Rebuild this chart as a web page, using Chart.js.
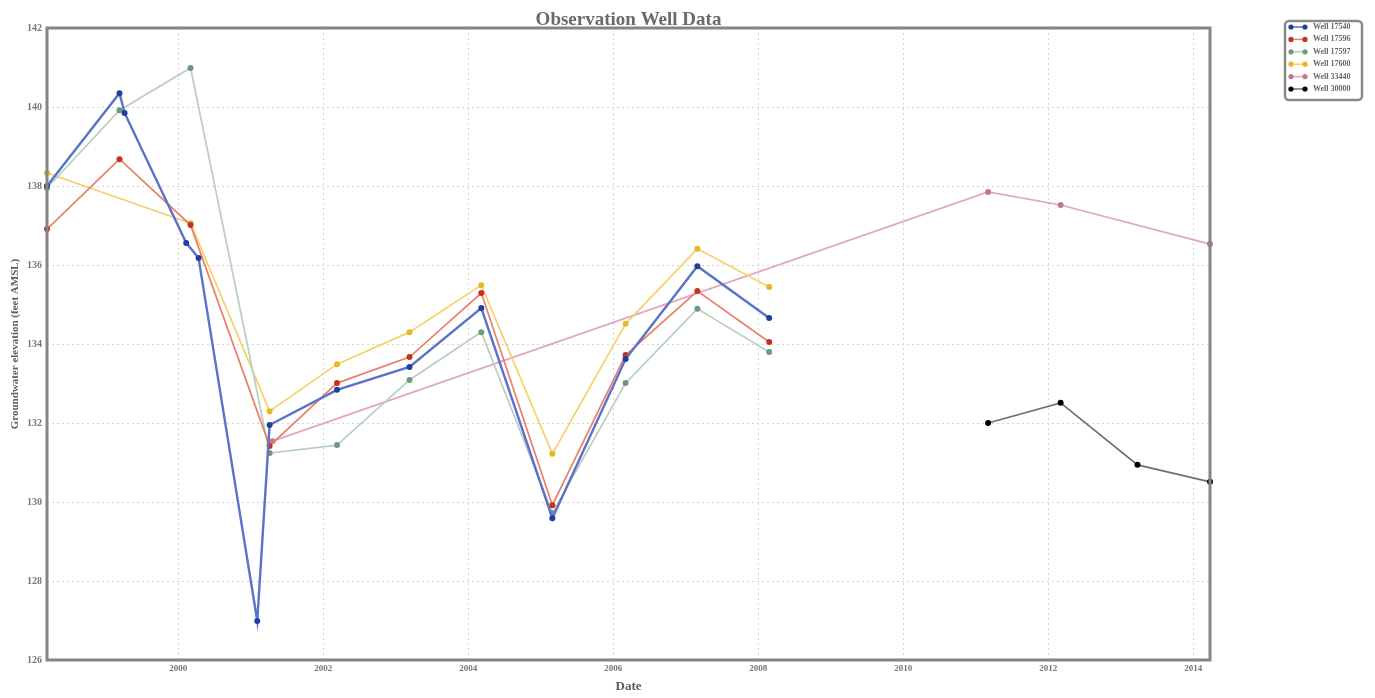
<!DOCTYPE html>
<html>
<head>
    <title>Observation Well Data</title>
    <script src="https://cdn.jsdelivr.net/npm/chart.js"></script>
    <style>
        /* full window canvas, no margins */
        html, body {
            margin: 0;
            padding: 0;
            background: #ffffff;
        }

        #wrap {
            width: 1375px;
            height: 698px;
        }
    </style>
</head>
<body>
    <div id="wrap">
        <canvas id="wellChart"></canvas>
    </div>

    <script>
        // Well names (legend) and colours
        var wellNames = ['Well 17540', 'Well 17596', 'Well 17597', 'Well 17600', 'Well 33440', 'Well 30000'];
        var lineColors = ['#5a72c8', '#e8806c', '#b9cfc0', '#f6d169', '#e2a6bd', '#707070'];
        var markColors = ['#1f3f9e', '#c2321f', '#6d9a7a', '#e8b822', '#c27595', '#000000'];

        // Sample dates (decimal years) and elevations (feet AMSL)
        var dates17540 = [1998.19, 1999.19, 1999.26, 2000.11, 2000.28, 2001.09, 2001.26, 2002.19, 2003.19, 2004.18, 2005.16, 2006.17, 2007.16, 2008.15];
        var elev17540  = [138.0, 140.35, 139.85, 136.56, 136.18, 126.99, 131.95, 132.84, 133.42, 134.91, 129.59, 133.62, 135.97, 134.66];

        var dates17596 = [1998.19, 1999.19, 2000.17, 2001.26, 2002.19, 2003.19, 2004.18, 2005.16, 2006.17, 2007.16, 2008.15];
        var elev17596  = [136.91, 138.68, 137.01, 131.42, 133.01, 133.67, 135.29, 129.92, 133.72, 135.34, 134.05];

        var dates17597 = [1998.19, 1999.19, 2000.17, 2001.26, 2002.19, 2003.19, 2004.18, 2005.16, 2006.17, 2007.16, 2008.15];
        var elev17597  = [137.95, 139.92, 140.99, 131.24, 131.44, 133.09, 134.30, 129.72, 133.01, 134.89, 133.80];

        var dates17600 = [1998.19, 2000.17, 2001.26, 2002.19, 2003.19, 2004.18, 2005.16, 2006.17, 2007.16, 2008.15];
        var elev17600  = [138.33, 137.06, 132.30, 133.49, 134.30, 135.49, 131.22, 134.51, 136.41, 135.44];

        var dates33440 = [2001.30, 2011.17, 2012.17, 2014.23];
        var elev33440  = [131.54, 137.85, 137.52, 136.53];

        var dates30000 = [2011.17, 2012.17, 2013.23, 2014.23];
        var elev30000  = [132.0, 132.51, 130.94, 130.51];

        // Axis ticks
        var xTicks = [2000, 2002, 2004, 2006, 2008, 2010, 2012, 2014];
        var yTicks = [126, 128, 130, 132, 134, 136, 138, 140, 142];

        var allDates = [dates17540, dates17596, dates17597, dates17600, dates33440, dates30000];
        var allElev = [elev17540, elev17596, elev17597, elev17600, elev33440, elev30000];

        function toPoints(dates, elev) {
            return dates.map(function (d, i) { return {x: d, y: elev[i]}; });
        }

        var datasets = wellNames.map(function (name, i) {
            return {
                label: name,
                data: toPoints(allDates[i], allElev[i]),
                borderColor: lineColors[i],
                backgroundColor: markColors[i],
                pointBackgroundColor: markColors[i],
                pointBorderColor: markColors[i],
                pointRadius: 3,
                pointBorderWidth: 0,
                borderWidth: i === 0 ? 2.4 : 1.7,
                tension: 0,
                fill: false,
                clip: 6
            };
        });

        var serif = "'Liberation Serif', 'DejaVu Serif', serif";
        var frameGray = '#858585';
        var textGray = '#5e5e5e';

        // Title, frame and legend drawn straight on the canvas
        var framePlugin = {
            id: 'framePlugin',
            afterDraw: function (chart) {
                var ctx = chart.ctx;
                var a = chart.chartArea;
                ctx.save();

                // frame round the plot
                ctx.strokeStyle = frameGray;
                ctx.lineWidth = 3;
                ctx.strokeRect(a.left, a.top, a.right - a.left, a.bottom - a.top);

                // title
                ctx.fillStyle = '#6a6a6a';
                ctx.font = 'bold 19px ' + serif;
                ctx.textAlign = 'center';
                ctx.textBaseline = 'alphabetic';
                ctx.fillText('Observation Well Data', (a.left + a.right) / 2, a.top - 3);

                // legend
                var lx = 1285, ly = 21, lw = 77, lh = 79;
                ctx.strokeStyle = '#8a8a8a';
                ctx.lineWidth = 2.5;
                ctx.beginPath();
                ctx.roundRect(lx, ly, lw, lh, 4);
                ctx.stroke();

                chart.data.datasets.forEach(function (ds, i) {
                    var y = 27 + i * 12.4;
                    ctx.strokeStyle = ds.borderColor;
                    ctx.lineWidth = 1.5;
                    ctx.beginPath();
                    ctx.moveTo(1291, y);
                    ctx.lineTo(1305, y);
                    ctx.stroke();
                    ctx.fillStyle = ds.pointBackgroundColor;
                    [1291, 1305].forEach(function (px) {
                        ctx.beginPath();
                        ctx.arc(px, y, 2.6, 0, Math.PI * 2);
                        ctx.fill();
                    });
                    ctx.fillStyle = '#666666';
                    ctx.font = 'bold 8px ' + serif;
                    ctx.textAlign = 'left';
                    ctx.textBaseline = 'middle';
                    ctx.fillText(ds.label, 1313, y);
                });

                ctx.restore();
            }
        };

        window.onload = function () {
            var ctx = document.getElementById('wellChart').getContext('2d');
            new Chart(ctx, {
                type: 'line',
                data: {datasets: datasets},
                options: {
                    responsive: true,
                    maintainAspectRatio: false,
                    animation: false,
                    layout: {
                        padding: {left: 9, right: 165, top: 28, bottom: 0}
                    },
                    plugins: {
                        legend: {display: false},
                        title: {display: false},
                        tooltip: {enabled: false}
                    },
                    scales: {
                        x: {
                            type: 'linear',
                            min: 1998.19,
                            max: 2014.23,
                            afterBuildTicks: function (s) {
                                s.ticks = xTicks.map(function (v) { return {value: v}; });
                            },
                            afterFit: function (s) { s.height = 38; },
                            ticks: {
                                autoSkip: false,
                                maxRotation: 0,
                                padding: 3,
                                color: '#777777',
                                font: {family: serif, size: 9, weight: 'bold'},
                                callback: function (v) { return String(v); }
                            },
                            grid: {
                                color: '#d4d4d4',
                                lineWidth: 1,
                                drawTicks: false
                            },
                            border: {display: false, dash: [2, 3]},
                            title: {
                                display: true,
                                text: 'Date',
                                color: textGray,
                                font: {family: serif, size: 13, weight: 'bold'},
                                padding: {top: 0, bottom: 4}
                            }
                        },
                        y: {
                            min: 126,
                            max: 142,
                            afterBuildTicks: function (s) {
                                s.ticks = yTicks.map(function (v) { return {value: v}; });
                            },
                            afterFit: function (s) { s.width = 38; },
                            ticks: {
                                padding: 5,
                                color: '#777777',
                                font: {family: serif, size: 10, weight: 'bold'}
                            },
                            grid: {
                                color: '#d4d4d4',
                                lineWidth: 1,
                                drawTicks: false
                            },
                            border: {display: false, dash: [2, 3]},
                            title: {
                                display: true,
                                text: 'Groundwater elevation (feet AMSL)',
                                color: textGray,
                                font: {family: serif, size: 11, weight: 'bold'},
                                padding: {top: 0, bottom: 2}
                            }
                        }
                    }
                },
                plugins: [framePlugin]
            });
        };
    </script>
</body>
</html>
